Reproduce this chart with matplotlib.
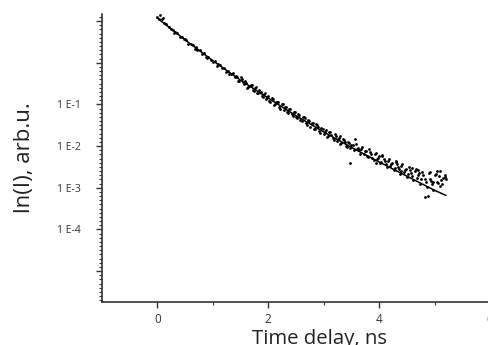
import numpy as np
import matplotlib
matplotlib.use("Agg")
import matplotlib.pyplot as plt
from matplotlib.ticker import FixedLocator, NullFormatter

# measured data: time delay (ns) and log10 intensity
time_ns = [0.00, 0.04, 0.08, 0.12, 0.16, 0.20, 0.24, 0.28, 0.32, 0.36, 0.40, 0.44, 0.48, 0.52, 0.56,
           0.60, 0.64, 0.68, 0.72, 0.76, 0.80, 0.84, 0.88, 0.92, 0.96, 1.00, 1.04, 1.08, 1.12, 1.16,
           1.20, 1.24, 1.28, 1.32, 1.36, 1.40, 1.44, 1.48, 1.52, 1.56, 1.60, 1.64, 1.68, 1.72, 1.76,
           1.80, 1.84, 1.88, 1.92, 1.96, 2.00, 2.04, 2.08, 2.12, 2.16, 2.20, 2.24, 2.28, 2.32, 2.36,
           2.40, 2.44, 2.48, 2.52, 2.56, 2.60, 2.64, 2.68, 2.72, 2.76, 2.80, 2.84, 2.88, 2.92, 2.96,
           3.00, 3.04, 3.08, 3.12, 3.16, 3.20, 3.24, 3.28, 3.32, 3.36, 3.40, 3.44, 3.48, 3.52, 3.56,
           3.60, 3.64, 3.68, 3.72, 3.76, 3.80, 3.84, 3.88, 3.92, 3.96, 4.00, 4.04, 4.08, 4.12, 4.16,
           4.20, 4.24, 4.28, 4.32, 4.36, 4.40, 4.44, 4.48, 4.52, 4.56, 4.60, 4.64, 4.68, 4.72, 4.76,
           4.80, 4.84, 4.88, 4.92, 4.96, 5.00, 5.04, 5.08, 5.12, 5.16, 5.20,
           3.47, 3.30, 4.60, 4.92, 5.04, 5.10, 4.82, 4.30, 4.70, 5.18, 4.98, 4.40, 4.05, 3.95,
           1.42, 1.46, 1.50, 1.54, 1.58, 1.62, 1.66, 1.70, 1.74, 1.78, 1.82, 1.86, 1.90, 1.94, 1.98,
           2.02, 2.06, 2.10, 2.14, 2.18, 2.22, 2.26, 2.30, 2.34, 2.38, 2.42, 2.46, 2.50, 2.54, 2.58,
           2.62, 2.66, 2.70, 2.74, 2.78, 2.82, 2.86, 2.90, 2.94, 2.98, 3.02, 3.06, 3.10, 3.14, 3.18,
           3.22, 3.26, 3.30, 3.34, 3.38, 3.42, 3.46, 3.50, 3.54, 3.58, 3.62, 3.66, 3.70, 3.74, 3.78,
           3.82, 3.86, 3.90, 3.94, 3.98, 4.02, 4.06, 4.10, 4.14, 4.18, 4.22, 4.26, 4.30, 4.34, 4.38,
           4.42, 4.46, 4.50, 4.54, 4.58, 4.62, 4.66, 4.70, 4.74, 4.78, 4.82, 4.86, 4.90, 4.94, 4.98,
           5.02, 5.06, 5.10, 5.14, 5.18,
           0.02, 0.10, 0.30, 0.50, 0.70, 0.90, 1.10, 1.30]
log_intensity = [1.10, 1.14, 1.06, 0.96, 0.92, 0.86, 0.80, 0.79, 0.73, 0.71, 0.63, 0.62, 0.56, 0.55, 0.46,
                 0.44, 0.43, 0.33, 0.31, 0.30, 0.21, 0.24, 0.13, 0.15, 0.06, 0.02, 0.04, -0.07, -0.05, -0.13,
                 -0.12, -0.22, -0.19, -0.28, -0.25, -0.34, -0.33, -0.43, -0.40, -0.52, -0.49, -0.59, -0.54, -0.66, -0.60,
                 -0.72, -0.66, -0.79, -0.74, -0.88, -0.80, -0.93, -0.86, -1.00, -0.93, -1.06, -0.99, -1.14, -1.05, -1.20,
                 -1.12, -1.27, -1.18, -1.33, -1.25, -1.40, -1.31, -1.45, -1.38, -1.53, -1.44, -1.58, -1.49, -1.64, -1.56,
                 -1.70, -1.62, -1.76, -1.66, -1.80, -1.72, -1.88, -1.80, -1.93, -1.85, -2.00, -1.90, -2.05, -1.98, -1.82,
                 -2.06, -2.10, -2.08, -2.20, -2.12, -2.26, -2.15, -2.28, -2.20, -2.30, -2.24, -2.38, -2.30, -2.44, -2.35,
                 -2.48, -2.40, -2.52, -2.42, -2.56, -2.48, -2.62, -2.55, -2.66, -2.58, -2.72, -2.60, -2.76, -2.65, -2.80,
                 -2.70, -2.85, -3.20, -2.78, -2.92, -2.70, -2.85, -2.72, -2.82, -2.76, -2.80,
                 -2.40, -1.75, -2.52, -2.62, -2.60, -2.95, -3.22, -2.35, -2.58, -2.70, -2.86, -2.60, -2.22, -2.40,
                 -0.31, -0.44, -0.35, -0.47, -0.43, -0.60, -0.55, -0.53, -0.68, -0.58, -0.72, -0.69, -0.83, -0.72, -0.83,
                 -0.91, -0.84, -1.02, -0.94, -0.95, -1.10, -1.00, -1.06, -1.19, -1.10, -1.24, -1.17, -1.29, -1.22, -1.38,
                 -1.30, -1.33, -1.49, -1.40, -1.44, -1.59, -1.48, -1.55, -1.68, -1.58, -1.66, -1.79, -1.67, -1.74, -1.86,
                 -1.75, -1.83, -1.95, -1.84, -1.90, -2.02, -1.92, -1.97, -2.10, -1.95, -2.04, -2.18, -2.02, -2.12, -2.24,
                 -2.08, -2.20, -2.34, -2.16, -2.28, -2.40, -2.24, -2.36, -2.50, -2.30, -2.44, -2.58, -2.38, -2.50, -2.66,
                 -2.44, -2.58, -2.74, -2.50, -2.64, -2.82, -2.56, -2.70, -2.90, -2.62, -2.78, -2.98, -2.64, -2.84, -3.05,
                 -2.66, -2.88, -2.60, -2.92, -2.74,
                 1.04, 1.08, 0.72, 0.58, 0.38, 0.12, -0.03, -0.27]

# fitted decay curve
fit_time = [0.0, 0.5, 1.0, 1.5, 2.0, 2.5, 3.0, 3.5, 4.0, 4.5, 5.0, 5.2]
fit_log = [1.07, 0.55, 0.05, -0.42, -0.85, -1.27, -1.66, -2.03, -2.38, -2.72, -3.06, -3.18]

ytick_exps = [-1, -2, -3, -4]
ytick_labels = ["1 E-1", "1 E-2", "1 E-3", "1 E-4"]
xticks = [0, 2, 4, 6]

intensity = [10 ** v for v in log_intensity]
fit_int = [10 ** v for v in fit_log]

plt.rcParams['font.family'] = ['Open Sans', 'DejaVu Sans']
fig = plt.figure(figsize=(4.89, 3.45), dpi=100)
ax = fig.add_axes([102 / 489, 43 / 345, 1 - 102 / 489 + 0.002, 288 / 345])

ax.scatter(time_ns, intensity, s=4, color='black', linewidths=0, zorder=3)
ax.plot(fit_time, fit_int, color='black', lw=1.1, zorder=2)

ax.set_yscale('log')
ax.set_xlim(-1.0, 6.0)
ax.set_ylim(10 ** -5.74, 10 ** 1.17)

ax.spines['top'].set_visible(False)
ax.spines['right'].set_visible(False)
for s in ['left', 'bottom']:
    ax.spines[s].set_linewidth(1.2)
    ax.spines[s].set_color('#333333')

major_y = [10.0 ** k for k in range(-5, 2)]
ax.yaxis.set_major_locator(FixedLocator(major_y))
lab_map = {10.0 ** e: l for e, l in zip(ytick_exps, ytick_labels)}
ax.set_yticklabels([lab_map.get(v, "") for v in major_y])
minor_y = [10.0 ** (k + i / 10) for k in range(-6, 2) for i in range(1, 10)]
ax.yaxis.set_minor_locator(FixedLocator(minor_y))
ax.yaxis.set_minor_formatter(NullFormatter())

ax.set_xticks(xticks)
ax.set_xticklabels([str(v) for v in xticks])
ax.set_xticks([1, 3, 5], minor=True)

ax.tick_params(axis='y', which='major', length=4, width=1.0, color='#333333',
               labelsize=7.5, labelcolor='#333333', pad=11)
ax.tick_params(axis='y', which='minor', length=2.5, width=0.8, color='#333333')
ax.tick_params(axis='x', which='major', length=4, width=1.0, color='#333333',
               labelsize=8.5, labelcolor='#333333', pad=4)
ax.tick_params(axis='x', which='minor', length=2.5, width=0.8, color='#333333')

fig.text(25 / 489, 1 - 158 / 345, "ln(I), arb.u.", rotation=90, ha='center', va='center',
         fontsize=16, color='#222222')
fig.text(320 / 489, 16 / 345, "Time delay, ns", ha='center', va='top',
         fontsize=14.7, color='#222222')

fig.savefig("out.png", dpi=100)
